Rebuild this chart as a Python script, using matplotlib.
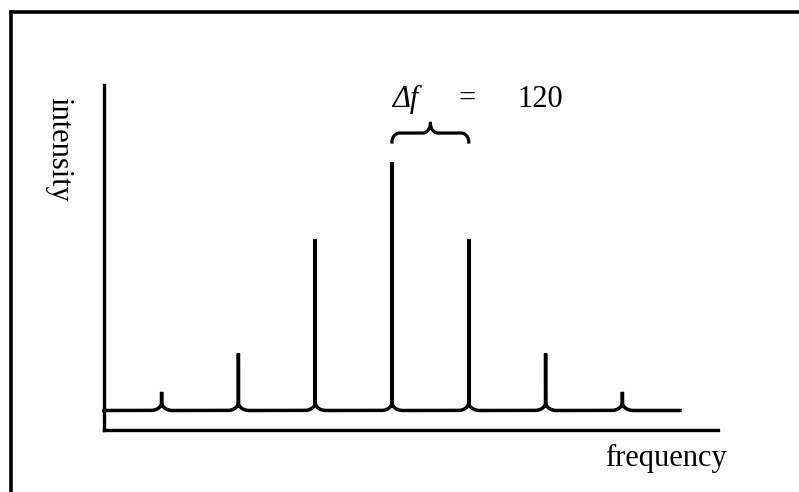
import numpy as np
import matplotlib
matplotlib.use('Agg')
from matplotlib import pyplot as plt
from matplotlib.lines import Line2D

# sideband positions relative to the carrier and their relative intensities
freq = [-360, -240, -120, 0, 120, 240, 360]
intensity = [0.075, 0.23, 0.69, 1.0, 0.69, 0.23, 0.075]
delta_f = 120
xlabel = 'frequency'
ylabel = 'intensity'

plt.rcParams['font.family'] = ['Liberation Serif', 'DejaVu Serif']

W, H = 799, 492
fig = plt.figure(figsize=(W / 100, H / 100), dpi=100)


def fx(x):
    return x / W


def fy(y):
    return 1 - y / H


# frame (top and left edges only)
fig.add_artist(Line2D([fx(11), 1.0], [fy(11.5), fy(11.5)], color='black', lw=2.6,
                      solid_capstyle='projecting'))
fig.add_artist(Line2D([fx(11), fx(11)], [fy(11.5), 0.0], color='black', lw=2.6,
                      solid_capstyle='projecting'))

ax = fig.add_axes([fx(104), fy(430), fx(718) - fx(104), fy(85) - fy(430)])
ax.set_xlim(-450, 509.4)
ax.set_ylim(-0.0785, 1.31)
for side in ['top', 'right']:
    ax.spines[side].set_visible(False)
for side in ['left', 'bottom']:
    ax.spines[side].set_linewidth(2.4)
    ax.spines[side].set_capstyle('projecting')
ax.set_xticks([])
ax.set_yticks([])
ax.patch.set_alpha(0)

# spectrum: baseline with a cusp rising into every line
rx, ry = 17.0, 0.032
t = np.linspace(0, np.pi / 2, 20)
xs, ys = [freq[0] - 90], [0.0]
for f, h in zip(freq, intensity):
    xs += list(f - rx + rx * np.sin(t))
    ys += list(ry - ry * np.cos(t))
    xs += [f, f]
    ys += [h, ry]
    xs += list(f + rx - rx * np.sin(t[::-1]))
    ys += list(ry - ry * np.cos(t[::-1]))
xs.append(freq[-1] + 90)
ys.append(0.0)
ax.plot(xs, ys, color='black', lw=2.5, solid_joinstyle='bevel', clip_on=False)

# brace marking the spacing between two neighbouring lines
x0, x1 = 0, delta_f
xm = (x0 + x1) / 2
yb, yh, yc = 1.0805, 1.1167, 1.157
bx_r, bx_c = 12.0, 12.0
left_x = list(x0 + bx_r - bx_r * np.cos(t)) + list(xm - bx_c + bx_c * np.sin(t))
left_y = list(yb + (yh - yb) * np.sin(t)) + list(yh + (yc - yh) * (1 - np.cos(t)))
bx = left_x + [2 * xm - v for v in left_x[::-1]]
by = left_y + left_y[::-1]
ax.plot(bx, by, color='black', lw=2.3, clip_on=False)

fs = 22
fig.text(fx(392), fy(107), '\u0394f', fontsize=fs, style='italic',
         ha='left', va='baseline')
fig.text(fx(467), fy(107), '=', fontsize=fs, ha='center', va='baseline')
fig.text(fx(517), fy(107), str(delta_f), fontsize=fs, ha='left', va='baseline')

fig.text(fx(666.5), fy(466), xlabel, fontsize=fs, ha='center', va='baseline')
fig.text(fx(58.5), fy(149), ylabel, fontsize=fs, rotation=-90,
         ha='center', va='center')

fig.savefig('out.png', dpi=100)
